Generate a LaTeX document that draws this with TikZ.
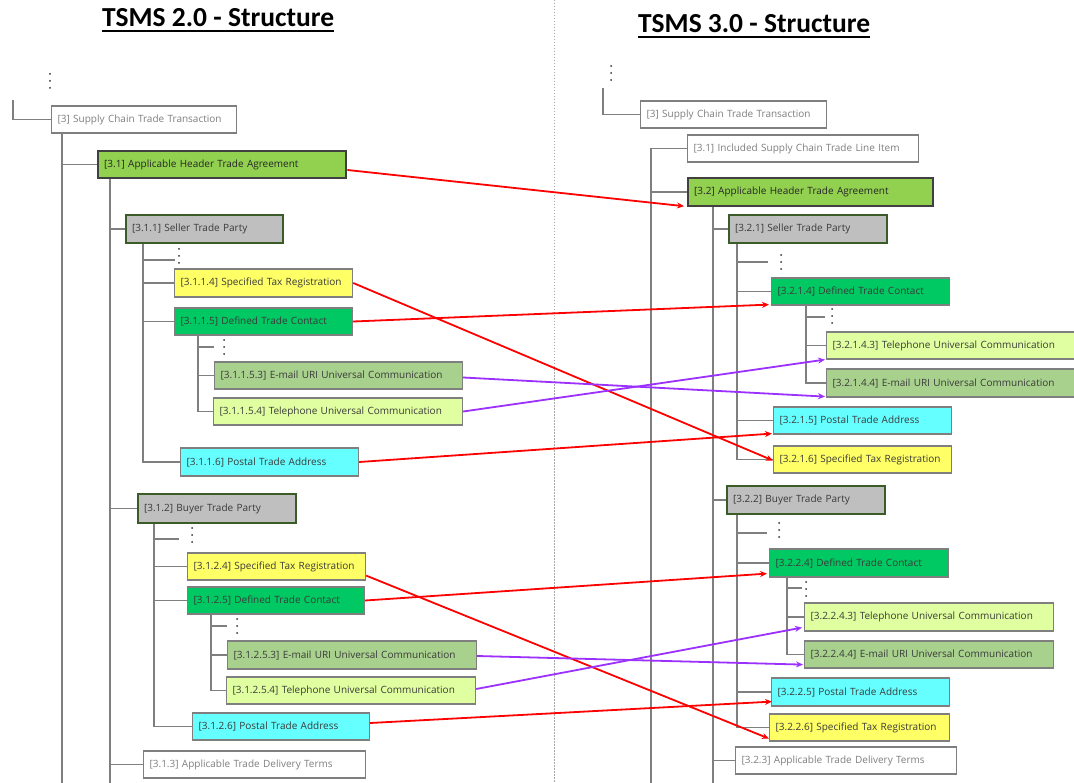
\documentclass[tikz,border=0pt]{standalone}
\usepackage{fontspec}
\setmainfont{Open Sans}
\newfontfamily\titlefont{Carlito}
\usetikzlibrary{arrows.meta}

% box helper: name, style, left, top, right, bottom, text
\newcommand\bx[7]{%
  \pgfmathsetmacro\bxw{#5-#3-12}%
  \pgfmathsetmacro\bxh{#6-#4}%
  \pgfmathsetmacro\bxy{(#4+#6)/2}%
  \node[#2, text width=\bxw pt, minimum height=\bxh pt, anchor=west] (#1) at (#3,\bxy) {#7};}

\definecolor{treegray}{HTML}{7F7F7F}
\definecolor{hdrfill}{HTML}{92D050}
\definecolor{hdrdraw}{HTML}{404040}
\definecolor{partyfill}{HTML}{BFBFBF}
\definecolor{partydraw}{HTML}{3B5B28}
\definecolor{yel}{HTML}{FFFF66}
\definecolor{grn}{HTML}{00C862}
\definecolor{olv}{HTML}{A9D18E}
\definecolor{lgt}{HTML}{E0FFA0}
\definecolor{cya}{HTML}{66FFFF}
\definecolor{txt}{HTML}{3A3A3A}
\definecolor{purp}{HTML}{9B30FF}

\tikzset{
  base/.style={rectangle, inner xsep=6pt, inner ysep=0pt, align=left,
    font=\fontsize{10}{12}\selectfont, text=txt, draw=treegray, line width=1.2pt},
  plain/.style={base, fill=white, text=treegray},
  hdr/.style={base, fill=hdrfill, draw=hdrdraw, line width=2.4pt, text=black!85},
  party/.style={base, fill=partyfill, draw=partydraw, line width=2pt},
  yelbox/.style={base, fill=yel},
  grnbox/.style={base, fill=grn},
  olvbox/.style={base, fill=olv},
  lgtbox/.style={base, fill=lgt},
  cyabox/.style={base, fill=cya},
  tree/.style={draw=treegray, line width=1.2pt},
  redarr/.style={draw=red, line width=1.8pt, -{Stealth[length=7pt,width=6pt]}},
  purarr/.style={draw=purp, line width=1.8pt, -{Stealth[length=7pt,width=6pt]}},
  ttl/.style={font=\titlefont\bfseries\fontsize{27.5}{30}\selectfont, inner sep=0pt, anchor=base west},
  vdots/.pic={\foreach \k in {-7,0,7} \fill[black!80] (0,\k) circle (1pt);}
}

\begin{document}
\begin{tikzpicture}[x=1pt,y=-1pt]
\useasboundingbox (0,0) rectangle (1074,783);
\clip (0,0) rectangle (1074,783);
\fill[white] (0,0) rectangle (1074,783);

% divider
\draw[black!35, line width=0.8pt, dash pattern=on 1.5pt off 1.5pt] (554,0) -- (554,783);

% titles
\node[ttl] (t2) at (102,27) {TSMS 2.0 - Structure};
\node[ttl] (t3) at (638,33) {TSMS 3.0 - Structure};
\draw[line width=1.8pt] ([yshift=-4pt]t2.base west) -- ([yshift=-4pt]t2.base east);
\draw[line width=1.8pt] ([yshift=-4pt]t3.base west) -- ([yshift=-4pt]t3.base east);

% ---------------- TSMS 2.0 ----------------
\bx{L3}{plain}{51}{106}{236}{133}{[3] Supply Chain Trade Transaction}
\bx{L31}{hdr}{97}{151}{345}{178}{[3.1] Applicable Header Trade Agreement}
\bx{L311}{party}{125}{215}{282}{243}{[3.1.1] Seller Trade Party}
\bx{L3114}{yelbox}{174}{269}{352}{297}{[3.1.1.4] Specified Tax Registration}
\bx{L3115}{grnbox}{174}{308}{352}{335}{[3.1.1.5] Defined Trade Contact}
\bx{L31153}{olvbox}{214}{362}{462}{389}{[3.1.1.5.3] E-mail URI Universal Communication}
\bx{L31154}{lgtbox}{213}{398}{462}{425}{[3.1.1.5.4] Telephone Universal Communication}
\bx{L3116}{cyabox}{180}{448}{358}{476}{[3.1.1.6] Postal Trade Address}
\bx{L312}{party}{137}{494}{295}{523}{[3.1.2] Buyer Trade Party}
\bx{L3124}{yelbox}{187}{553}{365}{580}{[3.1.2.4] Specified Tax Registration}
\bx{L3125}{grnbox}{187}{587}{364}{614}{[3.1.2.5] Defined Trade Contact}
\bx{L31253}{olvbox}{227}{641}{476}{669}{[3.1.2.5.3] E-mail URI Universal Communication}
\bx{L31254}{lgtbox}{226}{677}{475}{704}{[3.1.2.5.4] Telephone Universal Communication}
\bx{L3126}{cyabox}{192}{713}{369}{740}{[3.1.2.6] Postal Trade Address}
\bx{L313}{plain}{143}{751}{365}{778}{[3.1.3] Applicable Trade Delivery Terms}

% tree trunks
\coordinate (Ltop) at (13,100);
\coordinate (Lbot1) at (62,783);
\coordinate (Lbot2) at (110,783);
\coordinate (Ld311) at (175,260);
\coordinate (Ld3115) at (214,347);
\coordinate (Ld312) at (179,539);
\coordinate (Ld3125) at (227,626);
\pic at (50,81) {vdots};
\pic at (179,256) {vdots};
\pic at (224,347) {vdots};
\pic at (192,535) {vdots};
\pic at (237,626) {vdots};

\draw[tree] (Ltop) |- (L3.west);
\draw[tree] ([xshift=11pt]L3.south west) -- (Lbot1);
\draw[tree] ([xshift=11pt]L3.south west) |- (L31.west);
\draw[tree] ([xshift=13pt]L31.south west) -- (Lbot2);
\draw[tree] ([xshift=13pt]L31.south west) |- (L311.west);
\draw[tree] ([xshift=13pt]L31.south west) |- (L312.west);
\draw[tree] ([xshift=13pt]L31.south west) |- (L313.west);
\draw[tree] ([xshift=18pt]L311.south west) |- (Ld311);
\draw[tree] ([xshift=18pt]L311.south west) |- (L3114.west);
\draw[tree] ([xshift=18pt]L311.south west) |- (L3115.west);
\draw[tree] ([xshift=18pt]L311.south west) |- (L3116.west);
\draw[tree] ([xshift=24pt]L3115.south west) |- (Ld3115);
\draw[tree] ([xshift=24pt]L3115.south west) |- (L31153.west);
\draw[tree] ([xshift=24pt]L3115.south west) |- (L31154.west);
\draw[tree] ([xshift=17pt]L312.south west) |- (Ld312);
\draw[tree] ([xshift=17pt]L312.south west) |- (L3124.west);
\draw[tree] ([xshift=17pt]L312.south west) |- (L3125.west);
\draw[tree] ([xshift=17pt]L312.south west) |- (L3126.west);
\draw[tree] ([xshift=24pt]L3125.south west) |- (Ld3125);
\draw[tree] ([xshift=24pt]L3125.south west) |- (L31253.west);
\draw[tree] ([xshift=24pt]L3125.south west) |- (L31254.west);

% ---------------- TSMS 3.0 ----------------
\bx{R3}{plain}{640}{101}{826}{128}{[3] Supply Chain Trade Transaction}
\bx{R31}{plain}{687}{135}{918}{162}{[3.1] Included Supply Chain Trade Line Item}
\bx{R32}{hdr}{687}{178}{932}{206}{[3.2] Applicable Header Trade Agreement}
\bx{R321}{party}{728}{215}{886}{243}{[3.2.1] Seller Trade Party}
\bx{R3214}{grnbox}{771}{278}{949}{305}{[3.2.1.4] Defined Trade Contact}
\bx{R32143}{lgtbox}{826}{332}{1078}{359}{[3.2.1.4.3] Telephone Universal Communication}
\bx{R32144}{olvbox}{826}{369}{1078}{397}{[3.2.1.4.4] E-mail URI Universal Communication}
\bx{R3215}{cyabox}{773}{407}{951}{434}{[3.2.1.5] Postal Trade Address}
\bx{R3216}{yelbox}{773}{446}{951}{473}{[3.2.1.6] Specified Tax Registration}
\bx{R322}{party}{726}{486}{884}{514}{[3.2.2] Buyer Trade Party}
\bx{R3224}{grnbox}{769}{549}{948}{577}{[3.2.2.4] Defined Trade Contact}
\bx{R32243}{lgtbox}{804}{603}{1053}{631}{[3.2.2.4.3] Telephone Universal Communication}
\bx{R32244}{olvbox}{804}{641}{1053}{668}{[3.2.2.4.4] E-mail URI Universal Communication}
\bx{R3225}{cyabox}{771}{678}{949}{706}{[3.2.2.5] Postal Trade Address}
\bx{R3226}{yelbox}{769}{714}{949}{741}{[3.2.2.6] Specified Tax Registration}
\bx{R323}{plain}{735}{747}{956}{774}{[3.2.3] Applicable Trade Delivery Terms}

\coordinate (Rtop) at (603,88);
\coordinate (Rbot1) at (651,783);
\coordinate (Rbot2) at (713,783);
\coordinate (Rd321) at (768,262);
\coordinate (Rd3214) at (825,317);
\coordinate (Rd322) at (767,533);
\coordinate (Rd3224) at (802,588);
\pic at (611,73) {vdots};
\pic at (781,262) {vdots};
\pic at (832,316) {vdots};
\pic at (779,530) {vdots};
\pic at (806,589) {vdots};

\draw[tree] (Rtop) |- (R3.west);
\draw[tree] (R31.west) -| (Rbot1);
\draw[tree] (R32.west) -- (R32.west -| Rbot1);
\draw[tree] ([xshift=26pt]R32.south west) -- (Rbot2);
\draw[tree] ([xshift=26pt]R32.south west) |- (R321.west);
\draw[tree] ([xshift=26pt]R32.south west) |- (R322.west);
\draw[tree] ([xshift=26pt]R32.south west) |- (R323.west);
\draw[tree] ([xshift=9pt]R321.south west) |- (Rd321);
\draw[tree] ([xshift=9pt]R321.south west) |- (R3214.west);
\draw[tree] ([xshift=9pt]R321.south west) |- (R3215.west);
\draw[tree] ([xshift=9pt]R321.south west) |- (R3216.west);
\draw[tree] ([xshift=35pt]R3214.south west) |- (Rd3214);
\draw[tree] ([xshift=35pt]R3214.south west) |- (R32143.west);
\draw[tree] ([xshift=35pt]R3214.south west) |- (R32144.west);
\draw[tree] ([xshift=11pt]R322.south west) |- (Rd322);
\draw[tree] ([xshift=11pt]R322.south west) |- (R3224.west);
\draw[tree] ([xshift=11pt]R322.south west) |- (R3225.west);
\draw[tree] ([xshift=11pt]R322.south west) |- (R3226.west);
\draw[tree] ([xshift=18pt]R3224.south west) |- (Rd3224);
\draw[tree] ([xshift=18pt]R3224.south west) |- (R32243.west);
\draw[tree] ([xshift=18pt]R3224.south west) |- (R32244.west);

% mapping arrows
\draw[redarr] ([yshift=-5.5pt]L31.east) -- ([xshift=-3pt,yshift=1pt]R32.south west);
\draw[redarr] (L3114.east) -- ([yshift=-1pt]R3216.west);
\draw[redarr] (L3115.east) -- ([xshift=-2pt,yshift=1pt]R3214.south west);
\draw[purarr] ([yshift=-2pt]L31153.east) -- ([xshift=-1pt,yshift=1pt]R32144.south west);
\draw[purarr] ([yshift=0pt]L31154.east) -- ([xshift=-1pt,yshift=0pt]R32143.south west);
\draw[redarr] (L3116.east) -- ([xshift=-1pt,yshift=1pt]R3215.south west);
\draw[redarr] ([yshift=5pt]L3124.south east) -- ([yshift=3pt]R3226.south west);
\draw[redarr] (L3125.east) -- ([xshift=-2pt,yshift=4pt]R3224.south west);
\draw[purarr] ([yshift=-1pt]L31253.east) -- ([xshift=-1pt,yshift=4pt]R32244.south west);
\draw[purarr] ([yshift=1.5pt]L31254.east) -- ([xshift=-2pt,yshift=4pt]R32243.south west);
\draw[redarr] ([yshift=3.5pt]L3126.east) -- ([xshift=1pt,yshift=5pt]R3225.south west);
\end{tikzpicture}
\end{document}
